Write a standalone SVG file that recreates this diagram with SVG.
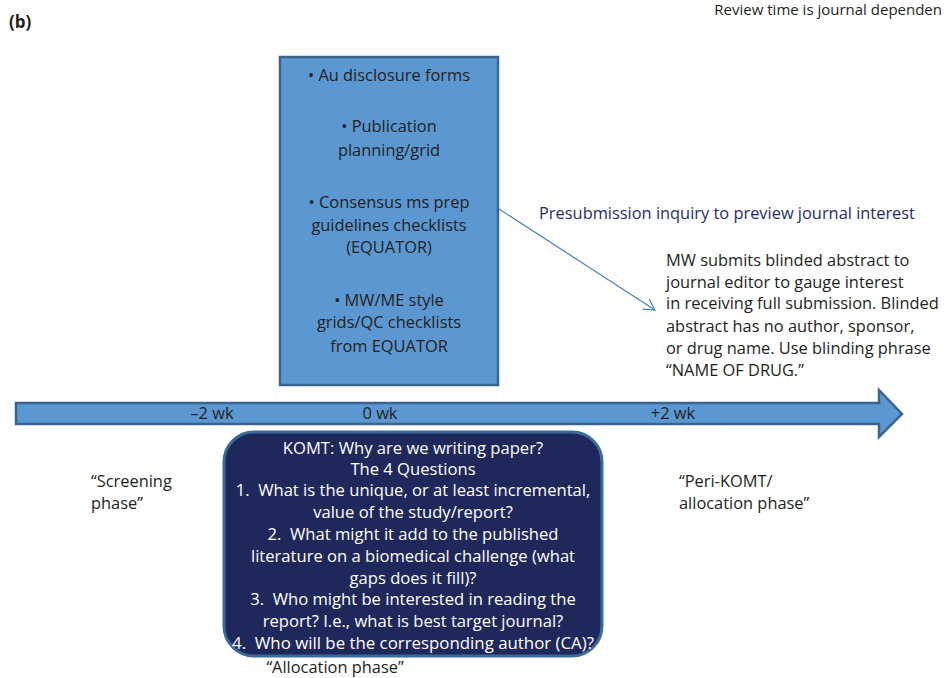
<svg xmlns="http://www.w3.org/2000/svg" width="947" height="678" viewBox="0 0 947 678">
<defs>
<style>
.t{font-family:"Open Sans","Liberation Sans",Arial,sans-serif;font-size:16.4px;fill:#231f20}
.c{text-anchor:middle}
.w{fill:#ffffff;font-size:16.6px}
.n{fill:#1f2d6b}
.blue{fill:#5b97d1;stroke:#3a6591;stroke-width:2.5}
</style>
<marker id="open" markerWidth="14" markerHeight="14" refX="12" refY="7" orient="auto" markerUnits="userSpaceOnUse">
<path d="M1,1 L12,7 L1,13" fill="none" stroke="#4a7ebb" stroke-width="1.2"/>
</marker>
</defs>
<rect width="947" height="678" fill="#ffffff"/>
<text class="t" x="9" y="28" style="font-weight:bold;font-size:17px">(b)</text>
<text class="t" x="942" y="15" style="font-size:15px;text-anchor:end">Review time is journal dependen</text>

<g id="timeline">
<path class="blue" d="M16,403 L879,403 L879,390 L902,414 L879,437 L879,424 L16,424 Z"/>
<text class="t c" x="212" y="419">–2 wk</text>
<text class="t c" x="380" y="419">0 wk</text>
<text class="t c" x="673" y="419">+2 wk</text>
</g>

<g id="prep-box">
<rect class="blue" x="280" y="57" width="218" height="328"/>
<text class="t c" x="389" y="81">• Au disclosure forms</text>
<text class="t c" x="389" y="132">• Publication</text>
<text class="t c" x="389" y="156">planning/grid</text>
<text class="t c" x="389" y="208">• Consensus ms prep</text>
<text class="t c" x="389" y="231">guidelines checklists</text>
<text class="t c" x="389" y="253">(EQUATOR)</text>
<text class="t c" x="389" y="306">• MW/ME style</text>
<text class="t c" x="389" y="328">grids/QC checklists</text>
<text class="t c" x="389" y="352">from EQUATOR</text>
</g>

<g id="connectors">
<line x1="499" y1="209" x2="655" y2="310" stroke="#4a7ebb" stroke-width="1.2" marker-end="url(#open)"/>
</g>

<g id="presubmission">
<text class="t n" x="539" y="219">Presubmission inquiry to preview journal interest</text>
</g>

<g id="mw-note">
<text class="t" x="666" y="266">MW submits blinded abstract to</text>
<text class="t" x="666" y="288">journal editor to gauge interest</text>
<text class="t" x="666" y="309">in receiving full submission. Blinded</text>
<text class="t" x="666" y="332">abstract has no author, sponsor,</text>
<text class="t" x="666" y="354">or drug name. Use blinding phrase</text>
<text class="t" x="666" y="376">“NAME OF DRUG.”</text>
</g>

<g id="screening">
<text class="t" x="91" y="487">“Screening</text>
<text class="t" x="91" y="509">phase”</text>
</g>

<g id="peri-komt">
<text class="t" x="679" y="487">“Peri-KOMT/</text>
<text class="t" x="679" y="509">allocation phase”</text>
</g>

<g id="komt">
<rect x="224" y="432" width="378" height="224" rx="30" ry="30" fill="#1f285a" stroke="#3a6a9a" stroke-width="3"/>
<text class="t c w" x="413" y="454">KOMT: Why are we writing paper?</text>
<text class="t c w" x="413" y="475">The 4 Questions</text>
<text class="t c w" x="413" y="496" xml:space="preserve">1.  What is the unique, or at least incremental,</text>
<text class="t c w" x="413" y="518">value of the study/report?</text>
<text class="t c w" x="413" y="540" xml:space="preserve">2.  What might it add to the published</text>
<text class="t c w" x="413" y="562">literature on a biomedical challenge (what</text>
<text class="t c w" x="413" y="584">gaps does it fill)?</text>
<text class="t c w" x="413" y="605" xml:space="preserve">3.  Who might be interested in reading the</text>
<text class="t c w" x="413" y="627">report? I.e., what is best target journal?</text>
<text class="t c w" x="413" y="649" xml:space="preserve" textLength="362" lengthAdjust="spacingAndGlyphs">4.  Who will be the corresponding author (CA)?</text>
</g>

<g id="allocation">
<text class="t c" x="335" y="673">“Allocation phase”</text>
</g>
</svg>
